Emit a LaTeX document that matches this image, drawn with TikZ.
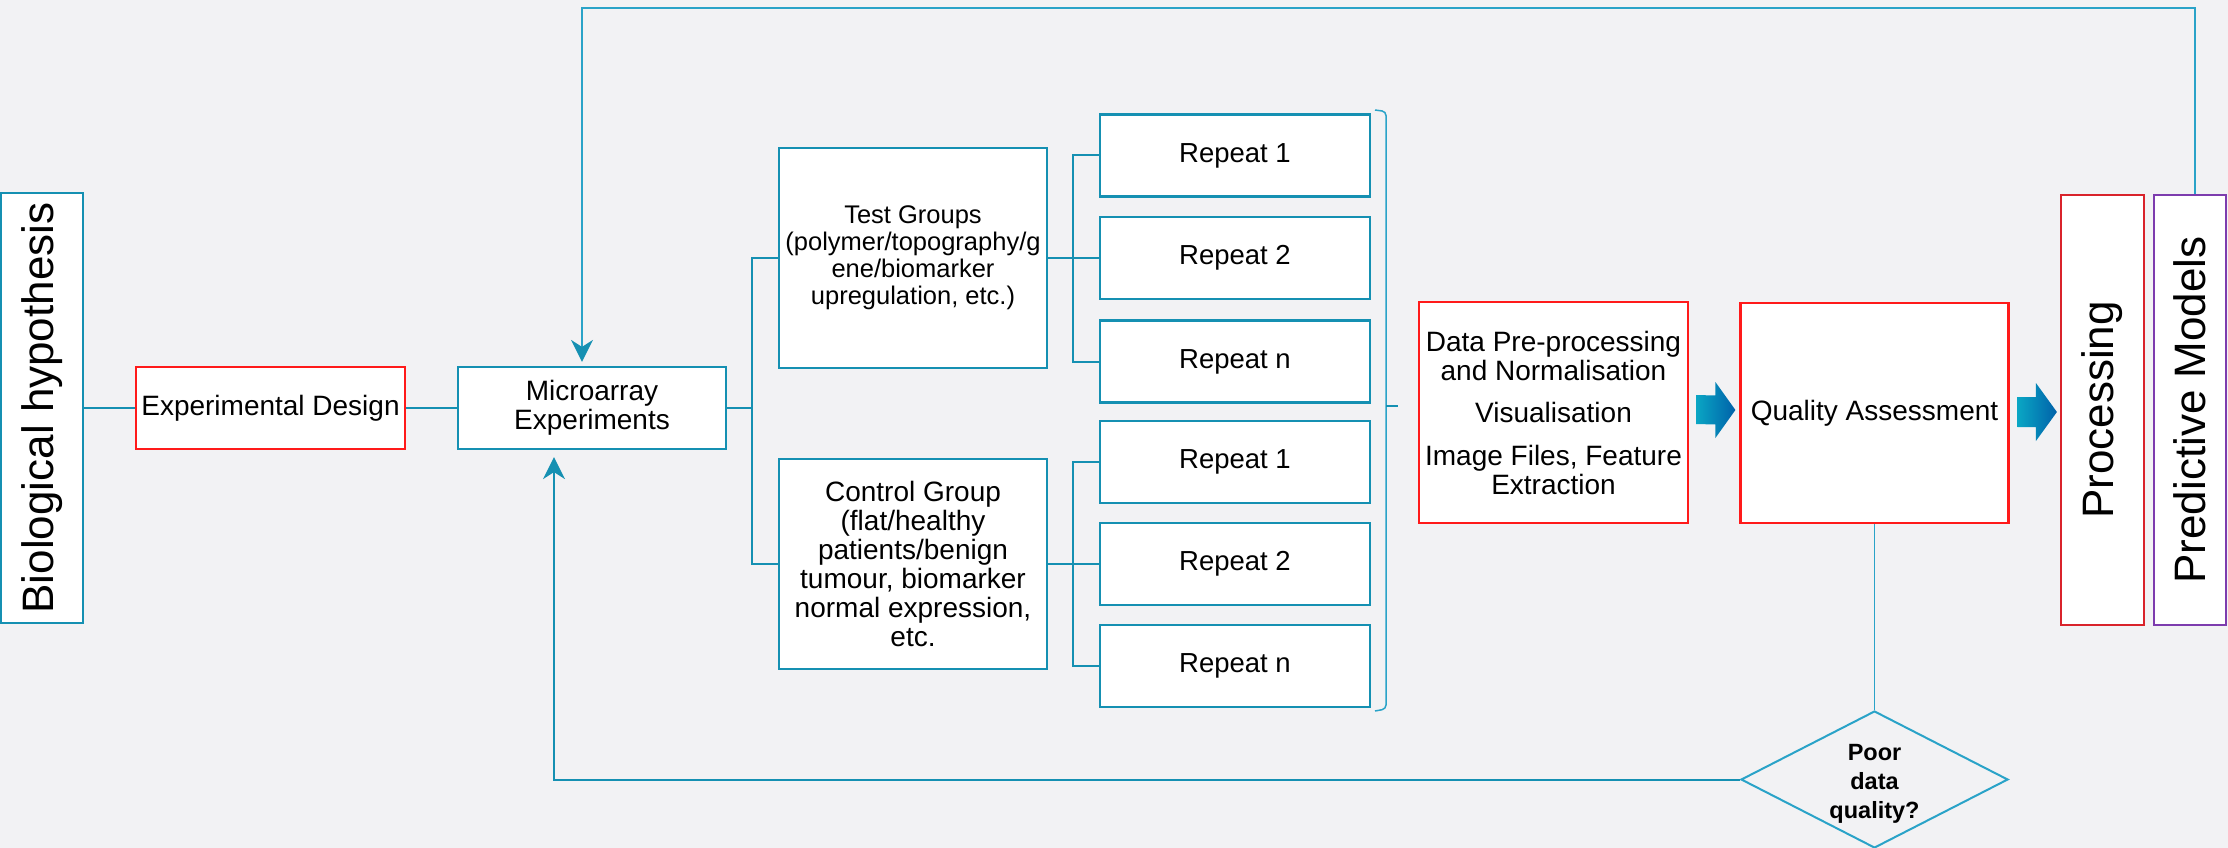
\documentclass[tikz,border=0pt]{standalone}
\usepackage{fontspec}
\setmainfont{Liberation Sans}
\usetikzlibrary{arrows.meta,calc,shapes.geometric}

\definecolor{bgcol}{HTML}{F2F2F4}
\definecolor{tealline}{HTML}{1590B2}
\definecolor{lightline}{HTML}{2AA3C8}
\definecolor{boxred}{HTML}{FF1A1A}
\definecolor{procred}{HTML}{D9232B}
\definecolor{predpurple}{HTML}{7D3CAE}
\definecolor{arrL}{HTML}{0AA6C4}
\definecolor{arrR}{HTML}{0061A9}

\begin{document}
\begin{tikzpicture}[x=1pt,y=-1pt,
  box/.style={draw=tealline, fill=white, line width=2.2pt, inner sep=0pt,
    align=center, font=\fontsize{28}{29}\selectfont},
  redbox/.style={box, draw=boxred},
  vbox/.style={box, rotate=90, font=\fontsize{44}{48}\selectfont,
    minimum width=430pt},
  rep/.style={box, minimum width=270pt, minimum height=82pt,
    font=\fontsize{27.5}{29}\selectfont},
  link/.style={draw=tealline, line width=2pt},
  tipA/.tip={Stealth[length=22pt,width=22pt,inset=7pt]},
  fb/.style={link, -tipA},
  fbtop/.style={draw=lightline, line width=1.6pt, -{tipA[color=tealline]}},
  bracest/.style={draw=lightline, line width=1.5pt},
  blockarrow/.style={left color=arrL, right color=arrR}
]
% canvas
\fill[bgcol] (0,0) rectangle (2228,848);
\useasboundingbox (0,0) rectangle (2228,848);

% main flow
\node[vbox, minimum height=82pt] (bio) at (42,408) {Biological hypothesis};
\node[redbox, minimum width=269pt, minimum height=82pt] (exp) at (270.5,408) {Experimental Design};
\node[box, minimum width=268pt, minimum height=82pt] (micro) at (592,408) {Microarray\\Experiments};

% groups
\node[box, minimum width=268pt, minimum height=220pt,
  font=\fontsize{25.5}{27}\selectfont] (tg) at (913,258)
  {Test Groups\\(polymer/topography/g\\ene/biomarker\\upregulation, etc.)};
\node[box, minimum width=268pt, minimum height=210pt] (cg) at (913,564)
  {Control Group\\(flat/healthy\\patients/benign\\tumour, biomarker\\normal expression,\\etc.};

% repeats
\node[rep] (r11) at (1235,155.5) {Repeat 1};
\node[rep] (r12) at (1235,258) {Repeat 2};
\node[rep] (r13) at (1235,361.5) {Repeat n};
\node[rep] (r21) at (1235,462) {Repeat 1};
\node[rep] (r22) at (1235,564) {Repeat 2};
\node[rep] (r23) at (1235,666) {Repeat n};

% analysis
\node[redbox, minimum width=269pt, minimum height=221pt] (data) at (1553.5,412.5)
  {Data Pre-processing\\and Normalisation\\[13pt]Visualisation\\[14pt]Image Files, Feature\\Extraction};
\node[redbox, minimum width=268pt, minimum height=220pt] (qa) at (1874.5,413) {Quality Assessment};
\node[vbox, draw=procred, minimum height=83pt] (proc) at (2102.5,410) {Processing};
\node[vbox, draw=predpurple, minimum height=72pt] (pm) at (2190,410) {Predictive Models};

% decision
\node[diamond, draw=lightline, line width=2pt, inner sep=0pt,
  minimum width=267pt, minimum height=137pt] (dq) at (1874.5,779.5) {};
\node[align=center, font=\bfseries\fontsize{23.5}{29}\selectfont] (dqt) at (1874.5,784)
  {Poor\\data\\quality?};

% tree connectors
\coordinate (busA) at (752,408);
\draw[link] (bio.south) -- (exp.west);
\draw[link] (exp.east) -- (micro.west);
\draw[link] (micro.east) -- (busA);
\draw[link] (tg.west) -| (busA);
\draw[link] (cg.west) -| (busA);

\coordinate (busB) at (1073,258);
\draw[link] (tg.east) -- (busB);
\draw[link] (r11.west) -| (busB);
\draw[link] (r12.west) -- (busB);
\draw[link] (r13.west) -| (busB);

\coordinate (busC) at (1073,564);
\draw[link] (cg.east) -- (busC);
\draw[link] (r21.west) -| (busC);
\draw[link] (r22.west) -- (busC);
\draw[link] (r23.west) -| (busC);

% bracket gathering the repeats
\draw[bracest, rounded corners=4pt] (1375,110) -- (1386,111.5) -- (1386,709) -- (1375,711);
\draw[draw=tealline, line width=2pt] (1386,406) -- (1398,406);

% block arrows
\coordinate (a1s) at ($(data.east)+(7,-3)$);
\coordinate (a1e) at ($(qa.west)+(-4,-3)$);
\shade[blockarrow] ($(a1s)+(0,-14.5)$) -- ($(a1e)+(-20,-14.5)$) -- ($(a1e)+(-20,-28)$)
  -- (a1e) -- ($(a1e)+(-20,28)$) -- ($(a1e)+(-20,14.5)$) -- ($(a1s)+(0,14.5)$) -- cycle;
\coordinate (a2s) at ($(qa.east)+(8,-1)$);
\coordinate (a2e) at ($(a2s -| proc.north)+(-3,0)$);
\shade[blockarrow] ($(a2s)+(0,-15)$) -- ($(a2e)+(-21,-15)$) -- ($(a2e)+(-21,-29)$)
  -- (a2e) -- ($(a2e)+(-21,29)$) -- ($(a2e)+(-21,15)$) -- ($(a2s)+(0,15)$) -- cycle;

% feedback loops
\coordinate (topL) at (582,8);
\draw[fbtop, shorten >=4pt] ($(pm.east)+(5,0)$) |- (topL) -- (topL |- micro.north);
\draw[draw=lightline, line width=1.4pt] (qa.south) -- (dq.north);
\draw[fb, shorten >=7pt] (dq.west) -| ($(micro.south)+(-38,0)$);
\end{tikzpicture}
\end{document}
